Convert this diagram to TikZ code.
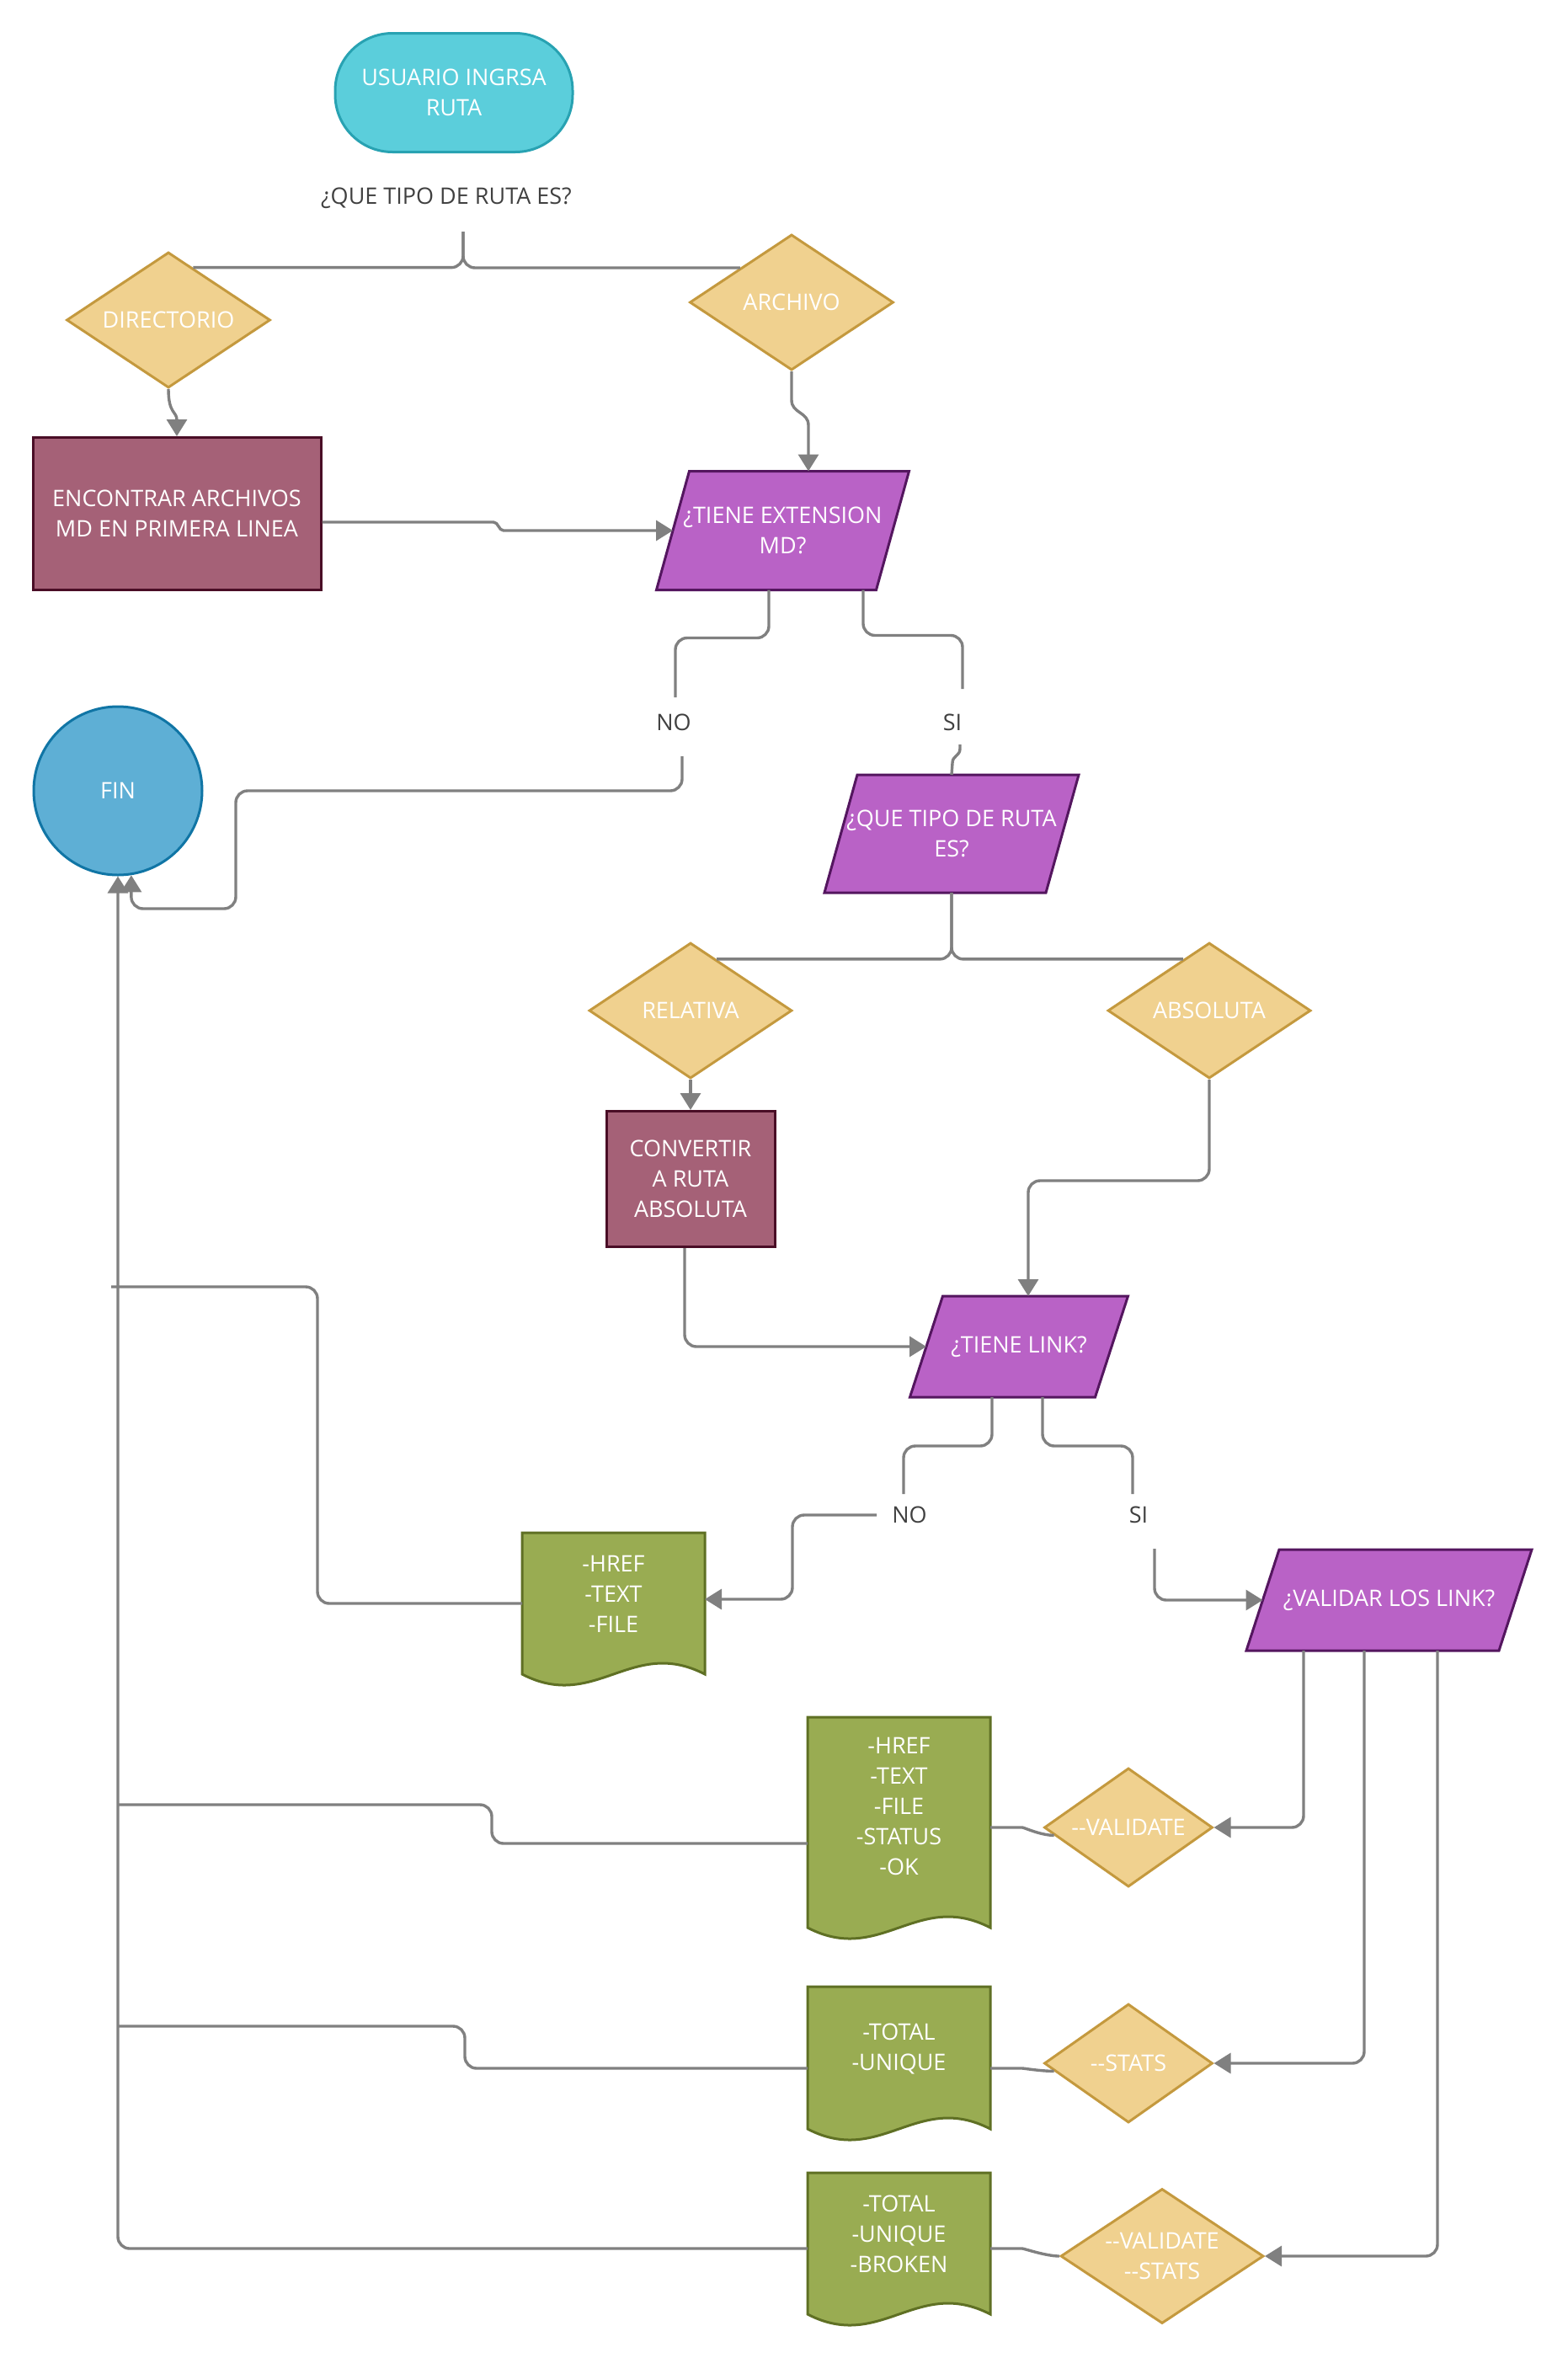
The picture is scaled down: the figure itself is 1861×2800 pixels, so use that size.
\documentclass[tikz,border=0pt]{standalone}
\usepackage{fontspec}
\setmainfont{Open Sans}
\usetikzlibrary{shapes.geometric,arrows.meta,calc,backgrounds}
\definecolor{termfill}{RGB}{91,206,219}
\definecolor{termline}{RGB}{40,162,178}
\definecolor{finfill}{RGB}{94,175,213}
\definecolor{finline}{RGB}{16,117,165}
\definecolor{decfill}{RGB}{240,209,143}
\definecolor{decline}{RGB}{196,153,62}
\definecolor{procfill}{RGB}{165,97,119}
\definecolor{procline}{RGB}{74,13,38}
\definecolor{parafill}{RGB}{185,98,198}
\definecolor{paraline}{RGB}{84,22,95}
\definecolor{docfill}{RGB}{153,172,82}
\definecolor{docline}{RGB}{95,112,36}
\definecolor{linegray}{RGB}{128,128,128}
\definecolor{lbltext}{RGB}{64,64,64}
\newcommand\paraout[2]{\draw[paradraw] ([xshift=-#2pt]#1.south west) -- ([xshift=-#2pt]#1.south east) -- ([xshift=#2pt]#1.north east) -- ([xshift=#2pt]#1.north west) -- cycle;}
\newcommand\docout[4]{\draw[docdraw] (#1,#3) -- (#2,#3) -- (#2,#4) .. controls ($(#2,#4)+(-86.8,-45)$) and ($(#1,#4)+(86.8,45)$) .. (#1,#4) -- cycle;}
\begin{document}
\begin{tikzpicture}[x=1pt,y=-1pt,
  every node/.style={font=\fontsize{27}{36}\selectfont, align=center, inner sep=0pt},
  term/.style={draw=termline, fill=termfill, line width=3pt, rounded corners=68pt, minimum width=282pt, minimum height=141pt, text=white},
  finsty/.style={circle, draw=finline, fill=finfill, line width=3pt, minimum size=200pt, text=white},
  dec/.style={diamond, draw=decline, fill=decfill, line width=3pt, text=white, aspect=1.5},
  proc/.style={draw=procline, fill=procfill, line width=3pt, text=white},
  para/.style={text=white, outer sep=0pt},
  paradraw/.style={draw=paraline, fill=parafill, line width=3pt, line join=miter},
  doctext/.style={text=white, minimum width=217pt, outer sep=0pt},
  docdraw/.style={draw=docline, fill=docfill, line width=3pt},
  lbl/.style={text=lbltext},
  conn/.style={draw=linegray, line width=3.4pt, rounded corners=14pt},
  arr/.style={conn, -{Triangle[length=20pt,width=24pt]}}
]
\useasboundingbox (0,0) rectangle (1861,2800);

% nodes
\node[term] (start) at (539,110) {USUARIO INGRSA\\RUTA};
\node[lbl] (q1) at (530,235) {¿QUE TIPO DE RUTA ES?};
\coordinate (f1) at (550,275);
\node[dec, minimum width=242pt, minimum height=161pt] (dir) at (200,380) {DIRECTORIO};
\node[dec, minimum width=242pt, minimum height=161pt] (arch) at (940,359) {ARCHIVO};
\node[proc, minimum width=342pt, minimum height=181pt] (enc) at (210,610) {ENCONTRAR ARCHIVOS\\MD EN PRIMERA LINEA};
\node[para, minimum width=261pt, minimum height=141pt] (md) at (929.5,630) {¿TIENE EXTENSION\\MD?};
\node[lbl] (no1) at (800,858) {NO};
\node[lbl] (si1) at (1131,858) {SI};
\node[finsty] (fin) at (140,939) {FIN};
\node[para, minimum width=263pt, minimum height=140pt] (q2) at (1130,990) {¿QUE TIPO DE RUTA\\ES?};
\node[dec, minimum width=241pt, minimum height=161pt] (rel) at (820,1200) {RELATIVA};
\node[dec, minimum width=241pt, minimum height=161pt] (abs) at (1436,1200) {ABSOLUTA};
\node[proc, minimum width=200pt, minimum height=161pt] (conv) at (820,1400) {CONVERTIR\\A RUTA\\ABSOLUTA};
\node[para, minimum width=220pt, minimum height=120pt] (link) at (1210,1599) {¿TIENE LINK?};
\node[lbl] (no2) at (1080,1799) {NO};
\node[lbl] (si2) at (1352,1799) {SI};
\node[para, minimum width=300pt, minimum height=120pt] (val) at (1649.5,1900) {¿VALIDAR LOS LINK?};
\node[doctext] (doc1) at (728.5,1893) {-HREF\\-TEXT\\-FILE};
\node[doctext] (doc2) at (1067.5,2145) {-HREF\\-TEXT\\-FILE\\-STATUS\\-OK};
\node[doctext] (doc3) at (1067.5,2433) {-TOTAL\\-UNIQUE};
\node[doctext] (doc4) at (1067.5,2653) {-TOTAL\\-UNIQUE\\-BROKEN};
\node[dec, minimum width=200pt, minimum height=141pt] (dv) at (1340,2170) {-\kern0pt-VALIDATE};
\node[dec, minimum width=200pt, minimum height=141pt] (ds) at (1340,2450) {-\kern0pt-STATS};
\node[dec, minimum width=241pt, minimum height=160pt] (dvs) at (1380,2679) {-\kern0pt-VALIDATE\\-\kern0pt-STATS};
\coordinate (j1) at (132,1528);
\coordinate (j2) at (140,2143);
\coordinate (j3) at (139,2406);

% outlines behind
\begin{scope}[on background layer]
\paraout{md}{19.5}
\paraout{q2}{19.5}
\paraout{link}{19.5}
\paraout{val}{19.5}
\docout{620}{837}{1820}{1988}
\docout{959}{1176}{2039}{2289}
\docout{959}{1176}{2359}{2528}
\docout{959}{1176}{2580}{2748}
\end{scope}

% connectors
\draw[conn] (f1) |- ($(dir.north)!0.24!(dir.east)$);
\draw[conn] (f1) |- ($(arch.north)!0.5!(arch.west)$);
\draw[arr] (dir.south) .. controls +(0,30) and +(0,-30) .. (enc.north);
\draw[arr] (arch.south) -- ++(0,20) .. controls +(0,30) and +(0,-30) .. ++(20,58) -- ([xshift=30.5pt]md.north);
\draw[arr] ([yshift=-10pt]enc.east) -- (572,620) .. controls (592,620) and (592,630) .. (612,630) -- (md.west);
\draw[conn] ([xshift=-16.5pt]md.south) -- ++(0,57) -| ([xshift=2pt,yshift=30pt]no1.center);
\draw[arr] ([xshift=10pt,yshift=-40pt]no1.center) -- (810,939) -- (280,939) -- (280,1079) -| (fin.-81);
\draw[conn] ([xshift=95.5pt]md.south) -- ++(0,54) -| ([xshift=12pt,yshift=40pt]si1.center);
\draw[conn, sharp corners] ([xshift=9pt,yshift=-26pt]si1.center) -- ++(0,5) .. controls +(0,9) and +(0,-9) .. ++(-9,17) -- (q2.north);
\draw[conn] (q2.south) |- ($(rel.north)!0.255!(rel.east)$);
\draw[conn] (q2.south) |- ($(abs.north)!0.255!(abs.west)$);
\draw[arr] (rel.south) -- (conv.north);
\draw[arr] ([xshift=-7pt]conv.south) |- (link.west);
\draw[arr] (abs.south) -- ++(0,120) -| ([xshift=11pt]link.north);
\draw[conn] ([xshift=-32pt]link.south) -- ++(0,58) -| ([xshift=-7pt,yshift=25pt]no2.center);
\draw[arr] ([xshift=-39pt]no2.center) -- (941,1799) |- ([yshift=-6pt]doc1.east);
\draw[conn] ([xshift=28pt]link.south) -- ++(0,58) -| ([xshift=-7pt,yshift=25pt]si2.center);
\draw[arr] ([xshift=19pt,yshift=-40pt]si2.center) |- (val.west);
\draw[arr] ([xshift=-101.5pt]val.south) |- (dv.east);
\draw[arr] ([xshift=-29.5pt]val.south) |- (ds.east);
\draw[arr] ([xshift=57.5pt]val.south) |- (dvs.east);
\draw[conn] ([yshift=-25pt]doc2.east) -- ++(24,0) .. controls +(16,0) and +(-16,0) .. ($(dv.west)!0.13!(dv.south)$);
\draw[conn] ([yshift=-23pt]doc3.east) -- ++(24,0) .. controls +(16,0) and +(-16,0) .. ($(ds.west)!0.13!(ds.south)$);
\draw[conn] ([yshift=-17pt]doc4.east) -- ++(24,0) .. controls +(16,0) and +(-16,0) .. (dvs.west);
\draw[conn] ([yshift=-11pt]doc1.west) -| (377,1528) -- (j1);
\draw[conn] ([yshift=-44pt]doc2.west) -| (584,2143) -- (j2);
\draw[conn] ([yshift=-23pt]doc3.west) -| (552,2406) -- (j3);
\draw[arr] ([yshift=-17pt]doc4.west) -| (fin.south);
\end{tikzpicture}
\end{document}
